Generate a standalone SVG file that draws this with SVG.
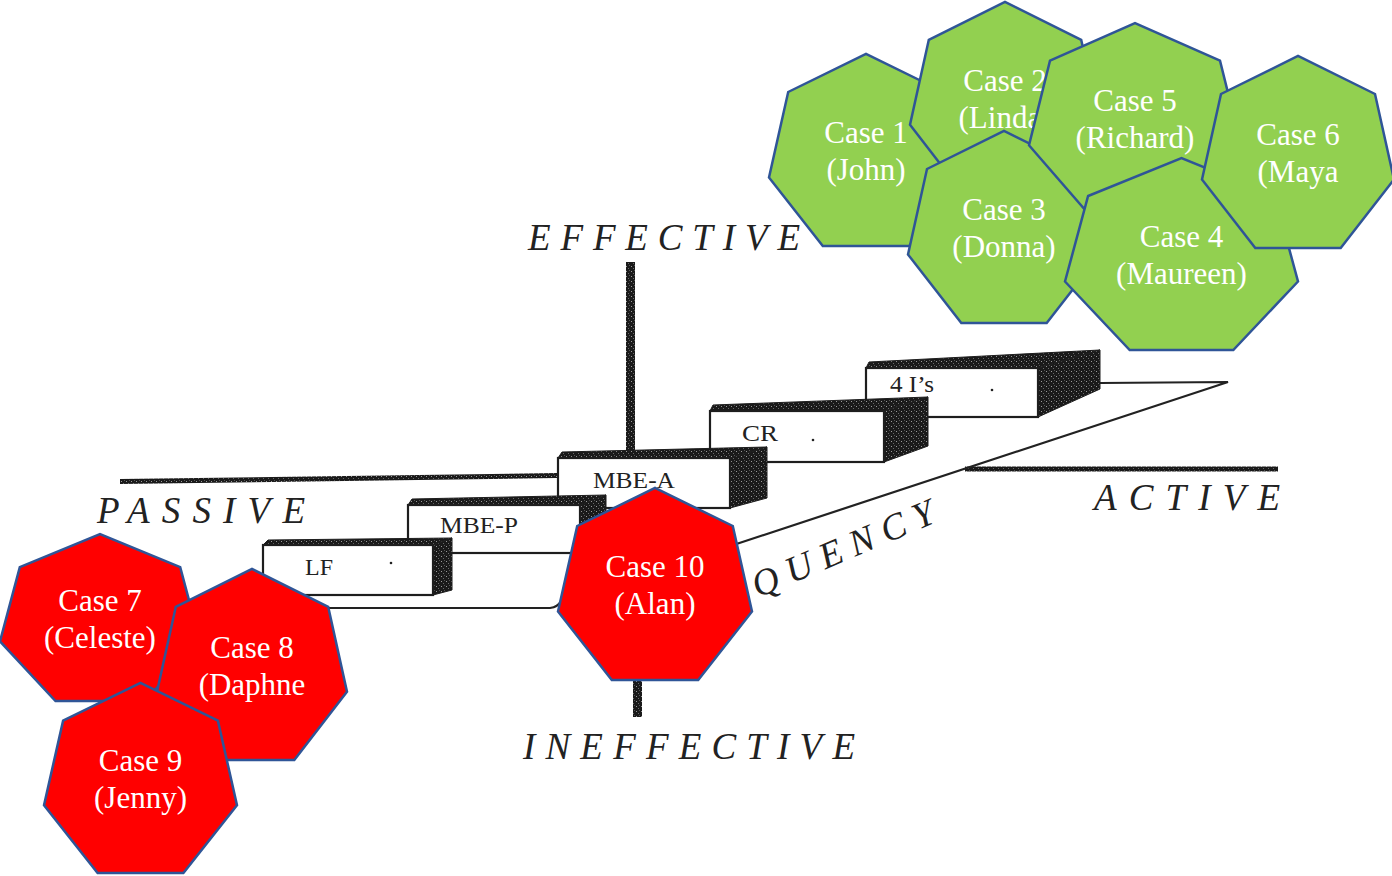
<svg xmlns="http://www.w3.org/2000/svg" width="1392" height="876" viewBox="0 0 1392 876">
  <defs>
    <pattern id="grain" width="5" height="5" patternUnits="userSpaceOnUse">
      <rect width="5" height="5" fill="#1a1a1a"/>
      <rect x="1" y="1" width="1" height="1" fill="#9a9a9a"/>
      <rect x="3" y="3" width="1" height="1" fill="#6a6a6a"/>
      <rect x="4" y="0" width="1" height="1" fill="#555"/>
    </pattern>
    <style>
      .axis { fill: url(#grain); }
      .face { fill: #ffffff; stroke: #1e1e1e; stroke-width: 2.2; }
      .dark { fill: url(#grain); stroke: #1e1e1e; stroke-width: 1; }
      .thin { fill: none; stroke: #222; stroke-width: 2.2; stroke-linecap: round; }
      .lbl { font-family: "Liberation Serif", "Times New Roman", serif; font-style: italic; font-size: 37px; fill: #222; }
      .blbl { font-family: "Liberation Serif", "Times New Roman", serif; font-size: 23px; fill: #222; }
      .green { fill: #92D050; stroke: #2F5597; stroke-width: 2.5; stroke-linejoin: miter; }
      .red { fill: #FF0000; stroke: #2F5597; stroke-width: 2.5; stroke-linejoin: miter; }
      .ct { font-family: "Liberation Serif", "Times New Roman", serif; font-size: 31px; fill: #ffffff; text-anchor: middle; }
    </style>
  </defs>
  <rect width="1392" height="876" fill="#ffffff"/>

  <g id="background-chart">
    <!-- axes -->
    <rect class="axis" x="626" y="262" width="9" height="194"/>
    <rect class="axis" x="633" y="680" width="9" height="37"/>
    <polygon class="axis" points="120,479 557,473 557,478 120,484"/>
    <rect class="axis" x="965" y="466.5" width="313" height="5"/>
    <!-- floor lines -->
    <path class="thin" d="M300,608 L550,608 Q558,607 561,601"/>
    <path class="thin" d="M700,556 L1228,382 L1100,383"/>

    <!-- 4 I's box -->
    <g id="box-4is">
      <polygon class="dark" points="866,368 869,362 1100,350 1038,368"/>
      <polygon class="dark" points="1038,368 1100,350 1100,389 1038,417"/>
      <rect class="face" x="866" y="368" width="172" height="49"/>
      <text class="blbl" x="890" y="392" textLength="44" lengthAdjust="spacingAndGlyphs">4 I’s</text>
      <circle cx="992" cy="390" r="1.3" fill="#222"/>
    </g>
    <!-- CR box -->
    <g id="box-cr">
      <polygon class="dark" points="710,411 713,405 928,397 884,411"/>
      <polygon class="dark" points="884,411 928,397 928,446 884,462"/>
      <rect class="face" x="710" y="411" width="174" height="51"/>
      <text class="blbl" x="742" y="441" textLength="36" lengthAdjust="spacingAndGlyphs">CR</text>
      <circle cx="813" cy="440" r="1.3" fill="#222"/>
    </g>
    <!-- MBE-A box -->
    <g id="box-mbea">
      <polygon class="dark" points="558,458 562,452 767,447 730,458"/>
      <polygon class="dark" points="730,458 767,447 767,498 730,508"/>
      <rect class="face" x="558" y="458" width="172" height="50"/>
      <text class="blbl" x="593" y="488" textLength="82" lengthAdjust="spacingAndGlyphs">MBE-A</text>
    </g>
    <!-- MBE-P box -->
    <g id="box-mbep">
      <polygon class="dark" points="408,505 412,499 606,495 580,505"/>
      <polygon class="dark" points="580,505 606,495 606,540 580,553"/>
      <rect class="face" x="408" y="505" width="172" height="48"/>
      <text class="blbl" x="440" y="533" textLength="78" lengthAdjust="spacingAndGlyphs">MBE-P</text>
    </g>
    <!-- LF box -->
    <g id="box-lf">
      <polygon class="dark" points="263,545 268,540 452,538 433,545"/>
      <polygon class="dark" points="433,545 452,538 452,590 433,595"/>
      <rect class="face" x="263" y="545" width="170" height="50"/>
      <text class="blbl" x="305" y="575" textLength="28" lengthAdjust="spacingAndGlyphs">LF</text>
      <circle cx="391" cy="563" r="1.3" fill="#222"/>
    </g>

    <!-- axis labels -->
    <text class="lbl" x="528" y="250" textLength="272" lengthAdjust="spacing">EFFECTIVE</text>
    <text class="lbl" x="97" y="523" textLength="208" lengthAdjust="spacing">PASSIVE</text>
    <text class="lbl" x="1094" y="510" textLength="186" lengthAdjust="spacing">ACTIVE</text>
    <text class="lbl" x="523" y="759" textLength="332" lengthAdjust="spacing">INEFFECTIVE</text>
    <text class="lbl" transform="translate(758,598) rotate(-23)" x="0" y="0" textLength="195" lengthAdjust="spacing">QUENCY</text>
  </g>

  <g id="connectors"></g>

  <!-- green cases (bottom to top) -->
  <g id="case1">
    <polygon class="green" points="769,177.5 788.2,92 866,54 943.8,92 963,177.5 909.2,246 822.8,246"/>
    <text class="ct" x="866" y="143">Case 1</text>
    <text class="ct" x="866" y="180">(John)</text>
  </g>
  <g id="case2">
    <polygon class="green" points="910,124.8 928.8,39.8 1005,2 1081.2,39.8 1100,124.8 1047.3,193 962.7,193"/>
    <text class="ct" x="1005" y="90.5">Case 2</text>
    <text class="ct" x="1005" y="127.5">(Linda)</text>
  </g>
  <g id="case3">
    <polygon class="green" points="908,254.5 927,169 1004,131 1081,169 1100,254.5 1046.7,323 961.3,323"/>
    <text class="ct" x="1004" y="220">Case 3</text>
    <text class="ct" x="1004" y="257">(Donna)</text>
  </g>
  <g id="case5">
    <polygon class="green" points="1029,145.2 1050,60.6 1135,23 1220,60.6 1241,145.2 1182.2,213 1087.8,213"/>
    <text class="ct" x="1135" y="111">Case 5</text>
    <text class="ct" x="1135" y="148">(Richard)</text>
  </g>
  <g id="case4">
    <polygon class="green" points="1065,281.5 1088.1,196 1181.5,158 1274.9,196 1298,281.5 1233.3,350 1129.7,350"/>
    <text class="ct" x="1181.5" y="247">Case 4</text>
    <text class="ct" x="1181.5" y="284">(Maureen)</text>
  </g>
  <g id="case6">
    <polygon class="green" points="1202,179.5 1221,94 1298,56 1375,94 1394,179.5 1340.7,248 1255.3,248"/>
    <text class="ct" x="1298" y="145">Case 6</text>
    <text class="ct" x="1298" y="182">(Maya</text>
  </g>

  <!-- red cases -->
  <g id="case7">
    <polygon class="red" points="0,641.4 19.8,567.1 100,534 180.2,567.1 200,641.4 144.5,701 55.5,701"/>
    <text class="ct" x="100" y="610.5">Case 7</text>
    <text class="ct" x="100" y="647.5">(Celeste)</text>
  </g>
  <g id="case8">
    <polygon class="red" points="157,691.8 175.8,606.8 252,569 328.2,606.8 347,691.8 294.3,760 209.7,760"/>
    <text class="ct" x="252" y="657.5">Case 8</text>
    <text class="ct" x="252" y="694.5">(Daphne</text>
  </g>
  <g id="case9">
    <polygon class="red" points="44,805.2 63.1,720.6 140.5,683 217.9,720.6 237,805.2 183.4,873 97.6,873"/>
    <text class="ct" x="140.5" y="771">Case 9</text>
    <text class="ct" x="140.5" y="808">(Jenny)</text>
  </g>
  <g id="case10">
    <polygon class="red" points="558,611.5 577.2,526 655,488 732.8,526 752,611.5 698.2,680 611.8,680"/>
    <text class="ct" x="655" y="577">Case 10</text>
    <text class="ct" x="655" y="614">(Alan)</text>
  </g>
</svg>
